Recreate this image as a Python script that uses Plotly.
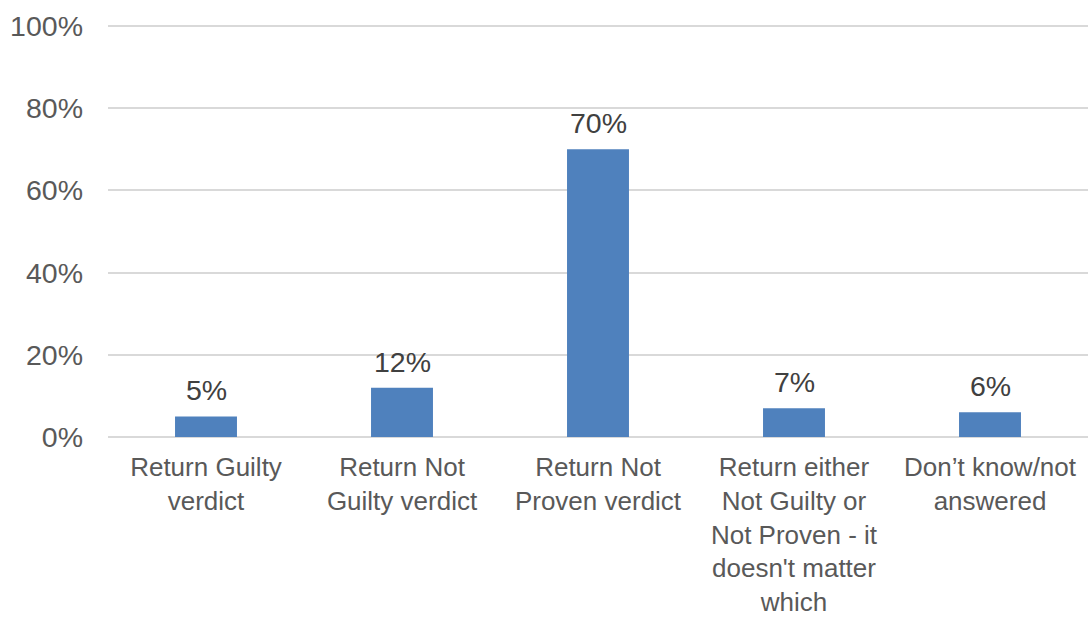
import plotly.graph_objects as go

categories = [
    "Return Guilty<br>verdict",
    "Return Not<br>Guilty verdict",
    "Return Not<br>Proven verdict",
    "Return either<br>Not Guilty or<br>Not Proven - it<br>doesn't matter<br>which",
    "Don’t know/not<br>answered",
]
values = [5, 12, 70, 7, 6]
value_labels = ["5%", "12%", "70%", "7%", "6%"]
y_ticks = [0, 20, 40, 60, 80, 100]
y_tick_labels = ["0%", "20%", "40%", "60%", "80%", "100%"]

FONT = "Liberation Sans, Arial, sans-serif"

fig = go.Figure()
fig.add_trace(go.Bar(
    x=categories,
    y=values,
    marker=dict(color="#4F81BD", line=dict(width=0)),
    hoverinfo="skip",
))

for c, v, t in zip(categories, values, value_labels):
    fig.add_annotation(
        x=c, y=v, text=t, showarrow=False,
        yanchor="bottom", yshift=8,
        font=dict(family=FONT, size=28.5, color="#404040"),
    )

fig.update_layout(
    width=1088, height=618,
    margin=dict(l=108, r=0, t=25, b=181),
    paper_bgcolor="white",
    plot_bgcolor="white",
    bargap=0.684,
    showlegend=False,
    font=dict(family=FONT, size=28, color="#595959"),
)
fig.update_xaxes(
    showgrid=False, zeroline=False, showline=False,
    ticks="", automargin=False,
    ticklabelstandoff=12,
    tickfont=dict(family=FONT, size=26, color="#595959"),
)
fig.update_yaxes(
    range=[0, 100.25],
    tickvals=y_ticks, ticktext=y_tick_labels,
    showgrid=True, gridcolor="#D9D9D9", gridwidth=1.5,
    zeroline=True, zerolinecolor="#D9D9D9", zerolinewidth=1.5,
    showline=False, ticks="", automargin=False,
    ticklabelstandoff=24,
    tickfont=dict(family=FONT, size=28.5, color="#595959"),
)

fig.write_html("out.html")
